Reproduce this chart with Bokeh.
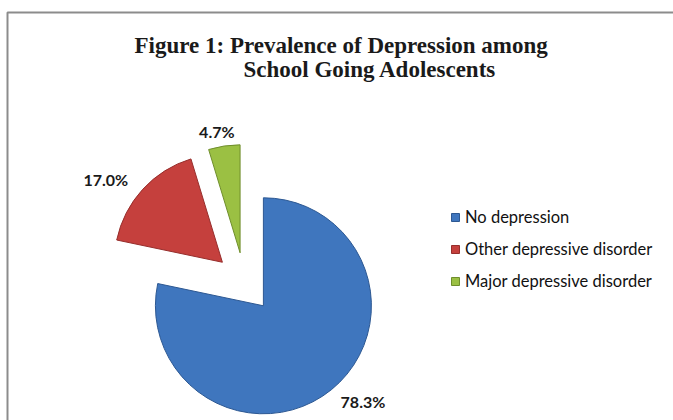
import math
from bokeh.plotting import figure
from bokeh.models import Range1d, Legend, LegendItem, ColumnDataSource
from bokeh.core.properties import value
from bokeh.embed import file_html
from bokeh.resources import INLINE

# ---- data ----
categories = ["No depression", "Other depressive disorder", "Major depressive disorder"]
percent = [78.3, 17.0, 4.7]
labels = ["78.3%", "17.0%", "4.7%"]
colors = ["#3F76BE", "#C5403D", "#9BC043"]
edge_colors = ["#2D5892", "#962E2C", "#6F8E2C"]
title_lines = ["Figure 1: Prevalence of Depression among", "School Going Adolescents"]

W, H = 673, 420
p = figure(width=W, height=H, output_backend="svg", toolbar_location=None,
           x_range=Range1d(0, W), y_range=Range1d(0, H), min_border=0)
p.axis.visible = False
p.grid.visible = False
p.outline_line_color = None
p.background_fill_color = "white"
p.border_fill_color = "white"

# frame of the original chart area (cut at right/bottom)
p.line([7, 7, W], [0, H - 12, H - 12], line_color="#8C8C8C", line_width=2)

# pie geometry (screen-like units, y up)
cx, cy = 244, H - 282
R = 108
explode = 30

total = sum(percent)
start = 90.0
xs, ys, sa, ea, mids = [], [], [], [], []
for v in percent:
    sweep = 360.0 * v / total
    end = start - sweep
    mid = math.radians((start + end) / 2)
    xs.append(cx + explode * math.cos(mid))
    ys.append(cy + explode * math.sin(mid))
    sa.append(math.radians(start))
    ea.append(math.radians(end))
    mids.append(mid)
    start = end

src = ColumnDataSource(dict(x=xs, y=ys, sa=sa, ea=ea, color=colors, edge=edge_colors, cat=categories))
wr = p.wedge(x="x", y="y", radius=R, start_angle="sa", end_angle="ea", direction="clock",
             fill_color="color", line_color="edge", line_width=1, source=src)

# data labels (outside end): label box centres on an ellipse around each slice
pad_x, pad_y = 50, 15
lx, ly = [], []
for i, mid in enumerate(mids):
    dx, dy = math.cos(mid), math.sin(mid)
    lx.append(xs[i] + (R + pad_x) * dx)
    ly.append(ys[i] + (R + pad_y) * dy)
p.text(x=lx, y=ly, text=labels, text_align="center", text_baseline="middle",
       text_font=value("Lato"), text_font_style="bold", text_font_size="16px", text_color="#1A1A1A")

# title
p.text(x=[134], y=[H - 45], text=[title_lines[0]], text_align="left", text_baseline="alphabetic",
       text_font=value("Liberation Serif"), text_font_style="bold", text_font_size="23px", text_color="#1A1A1A")
p.text(x=[243], y=[H - 69], text=[title_lines[1]], text_align="left", text_baseline="alphabetic",
       text_font=value("Liberation Serif"), text_font_style="bold", text_font_size="23px", text_color="#1A1A1A")

legend = Legend(items=[LegendItem(label=categories[i], renderers=[wr], index=i) for i in range(3)],
                location=(450, 129), glyph_width=10, glyph_height=10, label_standoff=5,
                spacing=12, padding=0, margin=0, border_line_alpha=0, background_fill_alpha=0,
                label_text_font="Lato", label_text_font_size="16.5px", label_text_color="#111111",
                label_height=20)
p.add_layout(legend)

open("out.html", "w").write(file_html(p, INLINE))
